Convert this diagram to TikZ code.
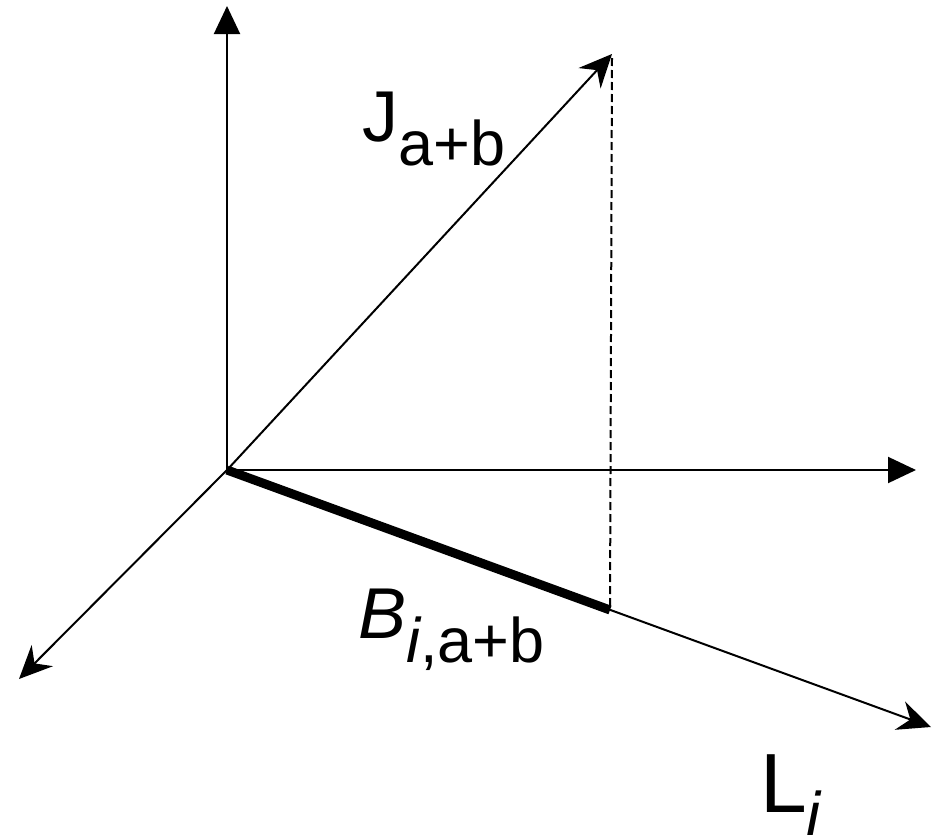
\documentclass[tikz,border=0pt]{standalone}
\usepackage{fontspec}
\setmainfont{Liberation Sans}
\usetikzlibrary{arrows.meta}
\newcommand{\lbl}[3]{{\fontsize{#1}{#1}\selectfont #2\lower24pt\hbox{\fontsize{63}{63}\selectfont #3}}}

\begin{document}
\begin{tikzpicture}[x=1pt,y=-1pt,
    axis/.style={-{Triangle[length=28pt,width=26pt]},line width=2pt},
    ray/.style={-{Stealth[length=33pt,width=30pt,inset=11pt]},line width=2pt},
    proj/.style={line width=9pt,line cap=butt},
    drop/.style={dash pattern=on 8pt off 4pt,line width=2pt},
    lab/.style={anchor=base west,inner sep=0pt}]
  \useasboundingbox (0,0) rectangle (932,835);
  \coordinate (O) at (227,470);
  \coordinate (top) at (227,6);
  \coordinate (right) at (916,470);
  \coordinate (front) at (19,679);
  \coordinate (Li) at (931,727);
  \coordinate (J) at (612,54);
  \coordinate (B) at (610,610);

  \draw[axis] (O) -- (top);
  \draw[axis] (O) -- (right);
  \draw[ray] (O) -- (front);
  \draw[ray] (O) -- (Li);
  \draw[ray] (O) -- (J);
  \draw[drop] (J |- 0,58) -- (B);
  \draw[proj] (O) -- (B);

  \node[lab] (jlab) at (362,141) {\lbl{72}{J}{a+b}};
  \node[lab] (blab) at (358,638) {\lbl{72}{\itshape B}{\itshape i\upshape ,a+b}};
  \node[lab] (llab) at (760,812) {\lbl{84}{L}{\itshape i}};
\end{tikzpicture}
\end{document}
